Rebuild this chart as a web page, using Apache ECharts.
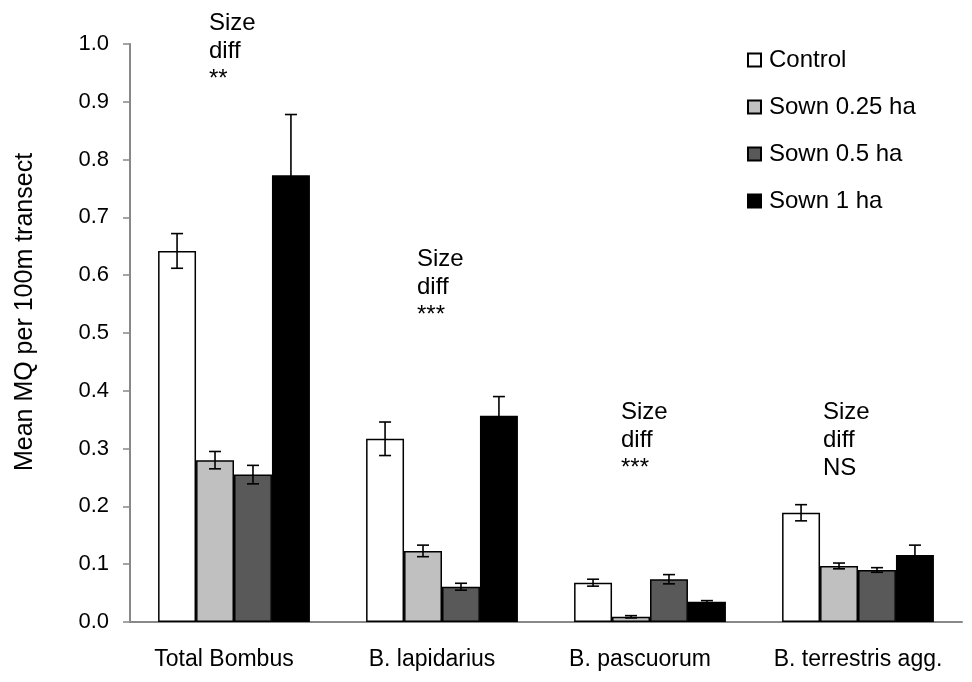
<!DOCTYPE html>
<html>
<head>
<meta charset="utf-8">
<script src="https://cdn.jsdelivr.net/npm/echarts@6/dist/echarts.min.js"></script>
<style>
html,body{margin:0;padding:0;background:#fff;}
#chart{width:972px;height:682px;}
</style>
</head>
<body>
<div id="chart"></div>
<script>
const categories = ['Total Bombus', 'B. lapidarius', 'B. pascuorum', 'B. terrestris agg.'];
const seriesNames = ['Control', 'Sown 0.25 ha', 'Sown 0.5 ha', 'Sown 1 ha'];
const control = [0.642, 0.317, 0.068, 0.189];
const controlErr = [0.030, 0.029, 0.006, 0.014];
const sown025 = [0.280, 0.123, 0.009, 0.097];
const sown025Err = [0.015, 0.010, 0.002, 0.005];
const sown05 = [0.255, 0.061, 0.074, 0.090];
const sown05Err = [0.016, 0.006, 0.008, 0.004];
const sown1 = [0.773, 0.357, 0.035, 0.116];
const sown1Err = [0.105, 0.033, 0.002, 0.017];
const annotations = ['Size\ndiff\n**', 'Size\ndiff\n***', 'Size\ndiff\n***', 'Size\ndiff\nNS'];
const yTicks = [0, 0.1, 0.2, 0.3, 0.4, 0.5, 0.6, 0.7, 0.8, 0.9, 1.0];

const means = [control, sown025, sown05, sown1];
const errs = [controlErr, sown025Err, sown05Err, sown1Err];
const colors = ['#ffffff', '#c0c0c0', '#595959', '#000000'];
const FONT = '"Liberation Sans", Arial, sans-serif';
const CAT_GAP = 0.27;

const chart = echarts.init(document.getElementById('chart'));

const series = [];
means.forEach((m, i) => {
  series.push({
    name: seriesNames[i],
    type: 'bar',
    data: m,
    barGap: '0%',
    barCategoryGap: (CAT_GAP * 100) + '%',
    itemStyle: { color: colors[i], borderColor: '#000', borderWidth: 1.5 },
    emphasis: { disabled: true },
    z: 2
  });
});
means.forEach((m, i) => {
  series.push({
    type: 'custom',
    name: 'err' + i,
    data: m.map((v, k) => [k, v, errs[i][k]]),
    z: 5,
    silent: true,
    renderItem: function (params, api) {
      const idx = api.value(0), v = api.value(1), e = api.value(2);
      const bandW = api.size([1, 0])[0];
      const barW = bandW * (1 - CAT_GAP) / 4;
      const cx = api.coord([idx, 0])[0] + (i - 1.5) * barW;
      const yTop = api.coord([idx, v + e])[1];
      const yBot = api.coord([idx, Math.max(0, v - e)])[1];
      const hw = 6;
      const st = { stroke: '#000', lineWidth: 1.6 };
      return {
        type: 'group',
        children: [
          { type: 'line', shape: { x1: cx, y1: yTop, x2: cx, y2: yBot }, style: st },
          { type: 'line', shape: { x1: cx - hw, y1: yTop, x2: cx + hw, y2: yTop }, style: st },
          { type: 'line', shape: { x1: cx - hw, y1: yBot, x2: cx + hw, y2: yBot }, style: st }
        ]
      };
    }
  });
});

const option = {
  animation: false,
  backgroundColor: '#ffffff',
  textStyle: { fontFamily: FONT },
  grid: { left: 130, right: 10, top: 44, bottom: 60, containLabel: false },
  legend: {
    data: seriesNames,
    orient: 'vertical',
    left: 742,
    top: 43,
    itemWidth: 13,
    itemHeight: 13,
    itemGap: 23,
    icon: 'rect',
    textStyle: { fontSize: 24, color: '#000', fontFamily: FONT, padding: [0, 0, 0, 3] }
  },
  xAxis: {
    type: 'category',
    data: categories,
    axisLine: { lineStyle: { color: '#888888', width: 2 } },
    axisTick: { show: false },
    axisLabel: {
      fontSize: 23, color: '#000', margin: 26, fontFamily: FONT, interval: 0,
      formatter: (v, k) => k < 3 ? '{s|' + v + '}' : v,
      rich: { s: { fontSize: 23, fontFamily: FONT, color: '#000', padding: [0, 20, 0, 0] } }
    }
  },
  yAxis: {
    type: 'value',
    min: 0,
    max: 1,
    interval: 0.1,
    name: 'Mean MQ per 100m transect',
    nameLocation: 'middle',
    nameGap: 92,
    nameTextStyle: { fontSize: 25, color: '#000', fontFamily: FONT, padding: [0, 0, 0, 42] },
    axisLine: { show: true, lineStyle: { color: '#888888', width: 2 } },
    axisTick: { show: true, length: 7, lineStyle: { color: '#888888', width: 1.5 } },
    splitLine: { show: false },
    axisLabel: {
      fontSize: 22, color: '#000', margin: 21, fontFamily: FONT,
      formatter: v => yTicks.some(t => Math.abs(t - v) < 1e-9) ? v.toFixed(1) : ''
    }
  },
  series: series
};
chart.setOption(option);

// annotation text blocks placed above each group
const annPos = [[209, 9], [417, 245], [621, 398], [823, 398]];
chart.setOption({
  graphic: annotations.map((t, k) => ({
    type: 'text',
    left: annPos[k][0],
    top: annPos[k][1],
    style: { text: t, fontSize: 24, lineHeight: 28, fill: '#000', font: '24px ' + FONT }
  }))
});
</script>
</body>
</html>
